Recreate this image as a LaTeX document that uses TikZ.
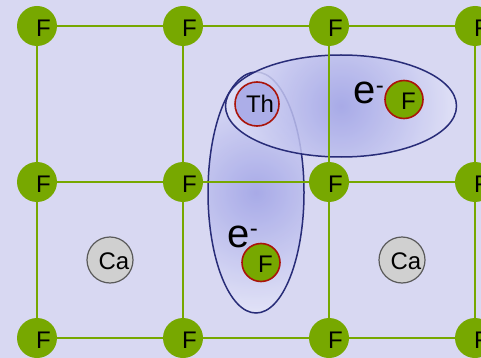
\documentclass[tikz,border=0pt]{standalone}
\usepackage{fontspec}
\setmainfont{Liberation Sans}
\usepackage{tikz}
\usetikzlibrary{shapes.geometric,backgrounds}
\definecolor{paper}{RGB}{216,216,242}
\definecolor{fgreen}{RGB}{119,168,0}
\definecolor{rim}{RGB}{170,20,10}
\definecolor{orbitline}{RGB}{40,44,120}
\definecolor{orbitin}{RGB}{160,163,230}
\definecolor{thfill}{RGB}{172,174,232}
\definecolor{cafill}{RGB}{208,208,208}
\definecolor{carim}{RGB}{90,90,90}
\pgfdeclareradialshading{orbitglow}{\pgfpoint{0bp}{0bp}}{color(0bp)=(orbitin); color(35bp)=(white); color(50bp)=(white)}
\newcommand{\atomfont}{\fontsize{24}{27}\selectfont}
\newcommand{\elfont}{\fontsize{40}{42}\selectfont}
\newcommand{\electron}{e\raisebox{10.5pt}{\fontsize{24}{24}\selectfont -}}

\begin{document}
\begin{tikzpicture}[
    x=1pt, y=-1pt,
    atom/.style={circle, inner sep=0pt, minimum size=40pt, fill=fgreen,
        label={[font=\atomfont, xshift=6.5pt, yshift=-2.5pt]center:#1}},
    hole/.style={circle, inner sep=0pt, minimum size=38pt, fill=fgreen, draw=rim, line width=1.6pt,
        label={[font=\atomfont, xshift=4.5pt, yshift=-1.5pt]center:#1}},
    thorium/.style={circle, inner sep=0pt, minimum size=44pt, fill=thfill, draw=rim, line width=1.6pt,
        label={[font=\atomfont, xshift=3pt]center:#1}},
    calcium/.style={circle, inner sep=0pt, minimum size=46pt, fill=cafill, draw=carim, line width=1.2pt,
        label={[font=\atomfont, xshift=4pt, yshift=-1pt]center:#1}},
    orbit/.style={ellipse, inner sep=0pt, draw=orbitline, line width=1.5pt,
        path picture={\shade[shading=orbitglow, fill opacity=0.85] (path picture bounding box.center) circle (120pt);}},
    bond/.style={draw=fgreen, line width=2.6pt},
    elec/.style={font=\elfont, anchor=base west, inner sep=0pt},
]
\useasboundingbox (0,0) rectangle (481,358);

% F sublattice
\foreach \x/\i in {37/1,183/2,329/3,475/4}
  \foreach \y/\j in {26/1,182/2,338/3}
    \node[atom=F] (f\i\j) at (\x,\y) {};

% Ca in the cube centres
\node[calcium=Ca] (ca1) at (110,260) {};
\node[calcium=Ca] (ca2) at (402,260) {};

% Th and the two interstitial F with their electrons
\node[thorium=Th] (th) at (257,104) {};
\node[hole=F] (fh) at (404,99.5) {};
\node[hole=F] (fv) at (261,262.5) {};
\node[elec] (eh) at (353.5,104) {\electron};
\node[elec] (ev) at (227.5,247) {\electron};

\begin{pgfonlayer}{background}
\fill[paper] (0,0) rectangle (481,358);
% orbitals
\node[orbit, minimum width=96pt, minimum height=241pt] (orbv) at (256,192.5) {};
\node[orbit, minimum width=231pt, minimum height=102pt] (orbh) at (341,106) {};
% bonds
\foreach \i in {1,...,4}
  \draw[bond] (f\i1) -- (f\i2) -- (f\i3);
\foreach \j in {1,2,3}
  \draw[bond] (f1\j) -- (f2\j) -- (f3\j) -- (f4\j);
\end{pgfonlayer}

\end{tikzpicture}
\end{document}
